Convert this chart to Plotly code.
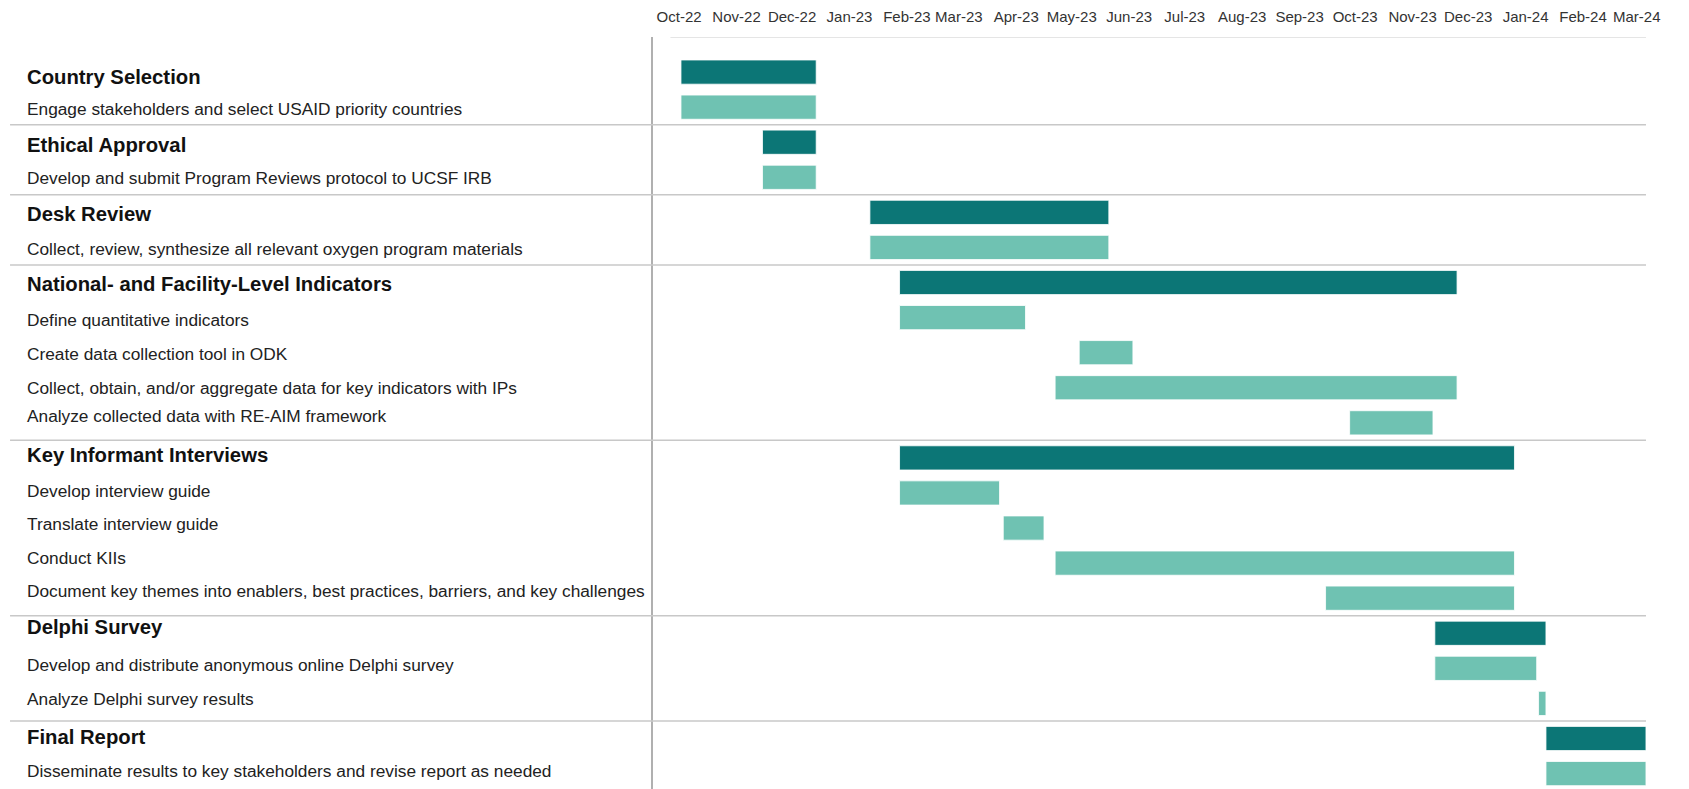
import plotly.graph_objects as go
import pandas as pd

tasks = [
    "Country Selection",
    "Engage stakeholders and select USAID priority countries",
    "Ethical Approval",
    "Develop and submit Program Reviews protocol to UCSF IRB",
    "Desk Review",
    "Collect, review, synthesize all relevant oxygen program materials",
    "National- and Facility-Level Indicators",
    "Define quantitative indicators",
    "Create data collection tool in ODK",
    "Collect, obtain, and/or aggregate data for key indicators with IPs",
    "Analyze collected data with RE-AIM framework",
    "Key Informant Interviews",
    "Develop interview guide",
    "Translate interview guide",
    "Conduct KIIs",
    "Document key themes into enablers, best practices, barriers, and key challenges",
    "Delphi Survey",
    "Develop and distribute anonymous online Delphi survey",
    "Analyze Delphi survey results",
    "Final Report",
    "Disseminate results to key stakeholders and revise report as needed",
]
is_header = [1, 0, 1, 0, 1, 0, 1, 0, 0, 0, 0, 1, 0, 0, 0, 0, 1, 0, 0, 1, 0]
starts = [
    "2022-10-16", "2022-10-16", "2022-11-29", "2022-11-29", "2023-01-26", "2023-01-26",
    "2023-02-11", "2023-02-11", "2023-05-19", "2023-05-06", "2023-10-12",
    "2023-02-11", "2023-02-11", "2023-04-08", "2023-05-06", "2023-09-29",
    "2023-11-27", "2023-11-27", "2024-01-22", "2024-01-26", "2024-01-26",
]
ends = [
    "2022-12-28", "2022-12-28", "2022-12-28", "2022-12-28", "2023-06-04", "2023-06-04",
    "2023-12-09", "2023-04-20", "2023-06-17", "2023-12-09", "2023-11-26",
    "2024-01-09", "2023-04-06", "2023-04-30", "2024-01-09", "2024-01-09",
    "2024-01-26", "2024-01-21", "2024-01-26", "2024-03-20", "2024-03-20",
]
tick_labels = ["Oct-22", "Nov-22", "Dec-22", "Jan-23", "Feb-23", "Mar-23", "Apr-23", "May-23",
               "Jun-23", "Jul-23", "Aug-23", "Sep-23", "Oct-23", "Nov-23", "Dec-23", "Jan-24",
               "Feb-24", "Mar-24"]
tick_dates = ["2022-10-15", "2022-11-15", "2022-12-15", "2023-01-15", "2023-02-15", "2023-03-15",
              "2023-04-15", "2023-05-15", "2023-06-15", "2023-07-15", "2023-08-15", "2023-09-15",
              "2023-10-15", "2023-11-15", "2023-12-15", "2024-01-15", "2024-02-15", "2024-03-15"]
separator_after = [1, 3, 5, 10, 15, 18]

# layout styling: small vertical nudges of the left-hand text labels (pixels, up positive)
label_nudge = [-5, -2, -3, -1, -2, -2, -1, -2, -1, 0, 7, 3, 2, 4, 5, 7, 6, 3, 4, 1, 3]

DARK = "#0c7676"
LIGHT = "#6fc2b2"

s = pd.to_datetime(starts)
e = pd.to_datetime(ends)
dur_ms = [(b - a).total_seconds() * 1000 for a, b in zip(s, e)]
colors = [DARK if h else LIGHT for h in is_header]

W, H = 1689, 789
WE = 1674  # effective rendered width
x_left = 652.8 / WE
x_right = 1645 / WE

fig = go.Figure()
fig.add_trace(go.Bar(
    y=tasks, x=dur_ms, base=starts, orientation="h",
    marker=dict(color=colors, line=dict(color="rgba(255,255,255,0.8)", width=1)),
    width=0.69, hoverinfo="skip", showlegend=False,
))

annotations = []
for t, h, nd in zip(tasks, is_header, label_nudge):
    annotations.append(dict(
        x=25 / WE, xref="paper", y=t, yref="y", xanchor="left", yanchor="middle",
        text=f"<b>{t}</b>" if h else t, showarrow=False,
        font=dict(family="Liberation Sans, Arial, sans-serif",
                  size=20.3 if h else 17.3, color="#111" if h else "#222"),
        yshift=nd,
    ))

shapes = []
for k in separator_after:
    shapes.append(dict(type="line", xref="paper", yref="y", x0=0.006, x1=x_right,
                       y0=k + 0.5, y1=k + 0.5, line=dict(color="#c8c8c8", width=1.5)))
shapes.append(dict(type="line", xref="paper", yref="y", x0=670 / WE, x1=x_right,
                   y0=-1.0, y1=-1.0, line=dict(color="#dddddd", width=1.5)))

fig.update_layout(
    width=W, height=H,
    margin=dict(l=0, r=0, t=37, b=0),
    plot_bgcolor="white", paper_bgcolor="white",
    barmode="overlay",
    annotations=annotations,
    shapes=shapes,
    font=dict(family="Liberation Sans, Arial, sans-serif"),
    xaxis=dict(
        type="date", domain=[x_left, x_right], side="top",
        range=["2022-10-01", "2024-03-20"],
        tickvals=tick_dates, ticktext=tick_labels, ticks="",
        tickfont=dict(size=15, color="#333"), showgrid=False, zeroline=False,
        showline=False, ticklabelstandoff=11,
    ),
    yaxis=dict(
        type="category", categoryorder="array", categoryarray=tasks,
        range=[20.44, -1.0], showticklabels=False, ticks="", showgrid=False,
        zeroline=False, showline=True, linecolor="#b0b0b0", linewidth=1.5,
    ),
)

fig.write_html("out.html")
